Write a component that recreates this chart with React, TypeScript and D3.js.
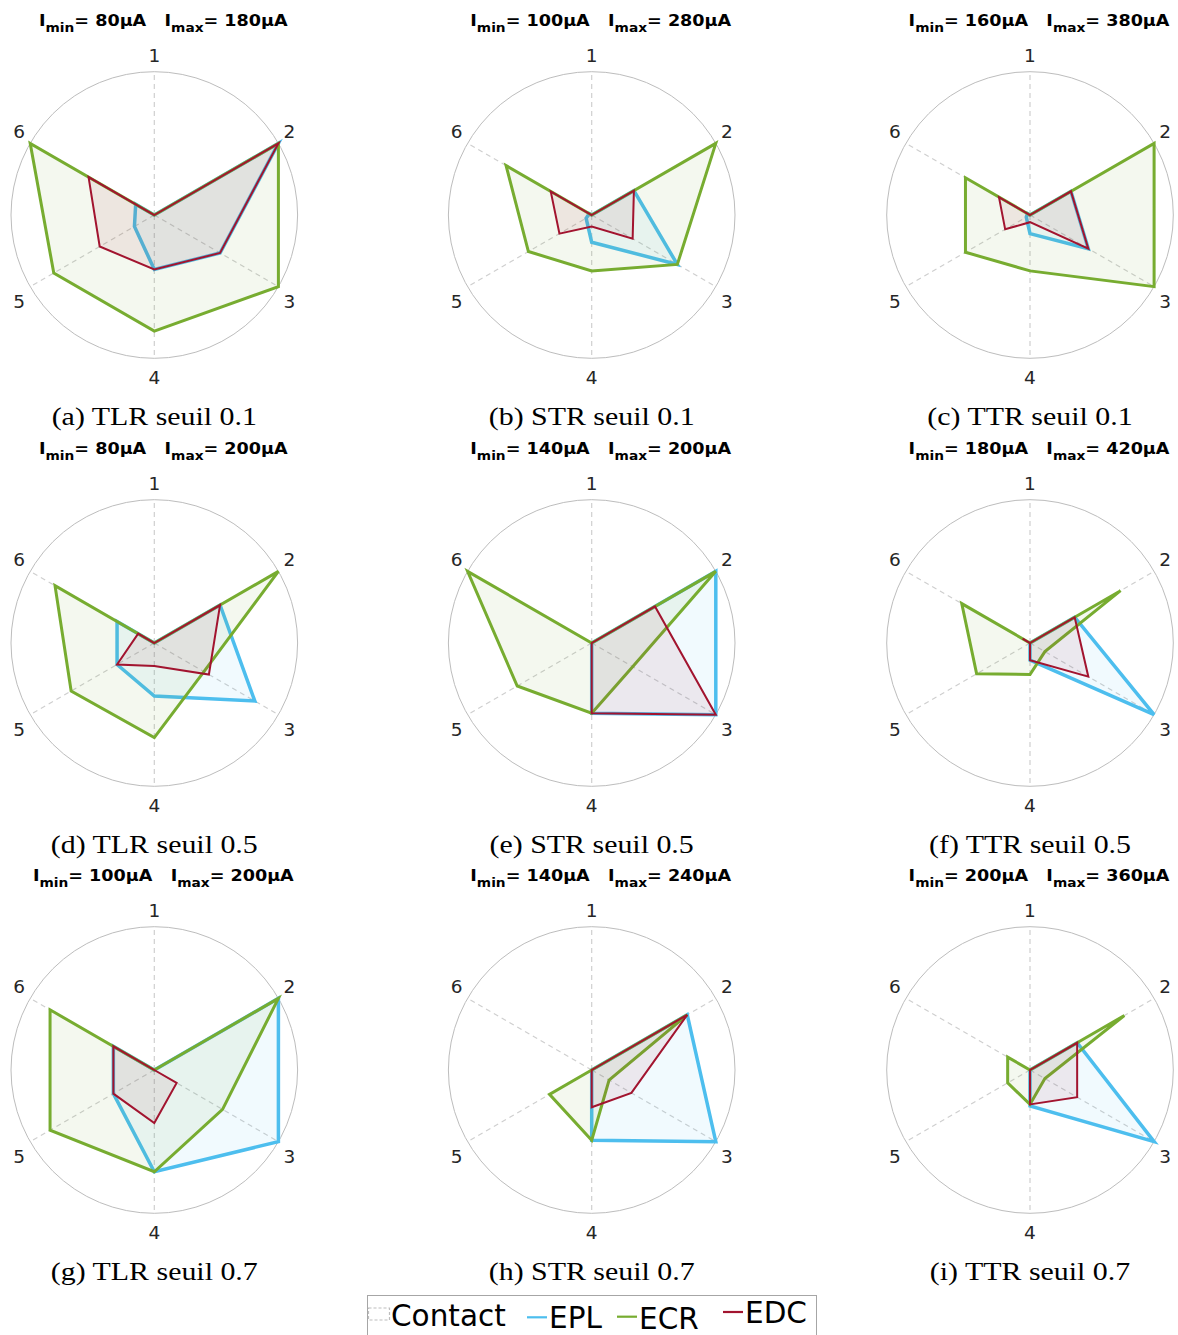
import React from "react";
import * as d3 from "d3";

// ---------- data ----------
const axisLabels = ["1", "2", "3", "4", "5", "6"];
const captions = [
  "(a) TLR seuil 0.1", "(b) STR seuil 0.1", "(c) TTR seuil 0.1",
  "(d) TLR seuil 0.5", "(e) STR seuil 0.5", "(f) TTR seuil 0.5",
  "(g) TLR seuil 0.7", "(h) STR seuil 0.7", "(i) TTR seuil 0.7",
];
const iMin = [80, 100, 160, 80, 140, 180, 100, 140, 200];
const iMax = [180, 280, 380, 200, 200, 420, 200, 240, 360];

const eplValues = [
  [0, 1.0, 0.53, 0.38, 0.16, 0.15],
  [0, 0.34, 0.69, 0.19, 0.045, 0.02],
  [0, 0.33, 0.47, 0.13, 0.03, 0.02],
  [0, 0.53, 0.81, 0.37, 0.3, 0.3],
  [0, 1.0, 1.0, 0.49, 0, 0],
  [0, 0.36, 1.0, 0.12, 0, 0],
  [0, 1.0, 1.0, 0.71, 0.33, 0.33],
  [0, 0.77, 1.0, 0.49, 0, 0],
  [0, 0.38, 1.0, 0.25, 0, 0],
];
const ecrValues = [
  [0, 1.0, 1.0, 0.81, 0.81, 1.0],
  [0, 1.0, 0.69, 0.39, 0.51, 0.69],
  [0, 1.0, 1.0, 0.39, 0.52, 0.52],
  [0, 1.0, 0.4, 0.66, 0.67, 0.8],
  [0, 1.0, 0.33, 0.49, 0.6, 1.0],
  [0, 0.73, 0.12, 0.22, 0.43, 0.55],
  [0, 1.0, 0.55, 0.71, 0.84, 0.84],
  [0, 0.77, 0.14, 0.49, 0.34, 0],
  [0, 0.76, 0.12, 0.24, 0.18, 0.18],
];
const edcValues = [
  [0, 1.0, 0.53, 0.38, 0.44, 0.53],
  [0, 0.34, 0.33, 0.08, 0.26, 0.33],
  [0, 0.33, 0.47, 0.05, 0.2, 0.25],
  [0, 0.53, 0.44, 0.16, 0.3, 0.13],
  [0, 0.51, 1.0, 0.49, 0, 0],
  [0, 0.36, 0.47, 0.12, 0, 0.06],
  [0, 0, 0.18, 0.37, 0.33, 0.33],
  [0, 0.77, 0.32, 0.26, 0, 0],
  [0, 0.38, 0.38, 0.24, 0, 0],
];
const seriesNames = ["Contact", "EPL", "ECR", "EDC"];

// ---------- layout / style ----------
const W = 1178;
const H = 1335;
const colX = [154.3, 591.7, 1030];
const rowY = [215, 643, 1070];
const R = 143.3;
const series = [
  { name: "EPL", values: eplValues, color: "#4DBEEE", width: 3.5 },
  { name: "ECR", values: ecrValues, color: "#77AC30", width: 3 },
  { name: "EDC", values: edcValues, color: "#A2142F", width: 2 },
];

const rScale = d3.scaleLinear().domain([0, 1]).range([0, R]);
const angle = d3.scaleLinear().domain([0, axisLabels.length]).range([0, 2 * Math.PI]);
const radar = d3
  .lineRadial<number>()
  .angle((_, i) => angle(i))
  .radius((d) => rScale(d))
  .curve(d3.curveLinearClosed);

function labelPos(a: number): [number, number] {
  const s = Math.sin(a);
  const c = Math.cos(a);
  const side = Math.abs(s) > 0.5 ? 4.5 : 0;
  return [156 * s, -(161 * c + Math.sign(c) * side) + 1.5];
}

function Panel({ idx }: { idx: number }) {
  const cx = colX[idx % 3];
  const cy = rowY[Math.floor(idx / 3)];
  return (
    <g>
      {/* title */}
      <g transform={`translate(${cx + 9},${cy - 189}) scale(1.1,1)`}>
        <text
          x={0}
          y={0}
          textAnchor="middle"
          fontFamily="DejaVu Sans"
          fontWeight="bold"
          fontSize={16}
          fill="#000"
        >
          <tspan>I</tspan>
          <tspan fontSize={12.5} dy={6}>min</tspan>
          <tspan dy={-6}>{`= ${iMin[idx]}µA\u00a0\u00a0\u00a0I`}</tspan>
          <tspan fontSize={12.5} dy={6}>max</tspan>
          <tspan dy={-6}>{`= ${iMax[idx]}µA`}</tspan>
        </text>
      </g>
      <g transform={`translate(${cx},${cy})`}>
        <circle r={R} fill="none" stroke="#bdbdbd" strokeWidth={1} />
        {axisLabels.map((lab, i) => {
          const a = angle(i);
          const [lx, ly] = labelPos(a);
          return (
            <g key={lab}>
              <line
                x1={0}
                y1={0}
                x2={R * Math.sin(a)}
                y2={-R * Math.cos(a)}
                stroke="#cfcfcf"
                strokeWidth={1.2}
                strokeDasharray="5,4"
              />
              <text
                x={lx}
                y={ly}
                textAnchor="middle"
                dominantBaseline="central"
                fontFamily="DejaVu Sans"
                fontSize={18.5}
                fill="#262626"
              >
                {lab}
              </text>
            </g>
          );
        })}
        {series.map((s) => (
          <path
            key={s.name}
            d={radar(s.values[idx]) || ""}
            fill={s.color}
            fillOpacity={0.08}
            stroke={s.color}
            strokeWidth={s.width}
            strokeLinejoin="miter"
          />
        ))}
      </g>
      <g transform={`translate(${cx},${cy + 210}) scale(1.15,1)`}>
        <text
          x={0}
          y={0}
          textAnchor="middle"
          fontFamily="Liberation Serif"
          fontSize={26}
          fill="#000"
        >
          {captions[idx]}
        </text>
      </g>
    </g>
  );
}

function Legend() {
  const colorOf = (n: string) => series.find((s) => s.name === n)?.color || "#999";
  return (
    <g fontFamily="DejaVu Sans" fontSize={29.5} fill="#000">
      <rect x={367.5} y={1295.5} width={449} height={50} fill="#fff" stroke="#a6a6a6" strokeWidth={1} />
      {/* Contact */}
      <rect x={368.5} y={1308} width={21} height={12} fill="none" stroke="#bdbdbd" strokeWidth={1.2} strokeDasharray="3,2" />
      <text x={391} y={1326}>{seriesNames[0]}</text>
      <line x1={527} x2={547} y1={1317.3} y2={1317.3} stroke={colorOf("EPL")} strokeWidth={2.2} />
      <text x={549} y={1328}>{seriesNames[1]}</text>
      <line x1={617} x2={637} y1={1316.7} y2={1316.7} stroke={colorOf("ECR")} strokeWidth={2.2} />
      <text x={639} y={1329}>{seriesNames[2]}</text>
      <line x1={723} x2={743} y1={1312} y2={1312} stroke={colorOf("EDC")} strokeWidth={2.2} />
      <text x={745} y={1323}>{seriesNames[3]}</text>
    </g>
  );
}

export default function App() {
  return (
    <svg
      width={W}
      height={H}
      viewBox={`0 0 ${W} ${H}`}
      style={{ position: "absolute", left: 0, top: 0, background: "#fff" }}
    >
      <rect x={0} y={0} width={W} height={H} fill="#fff" />
      {captions.map((_, i) => (
        <Panel key={i} idx={i} />
      ))}
      <Legend />
    </svg>
  );
}
